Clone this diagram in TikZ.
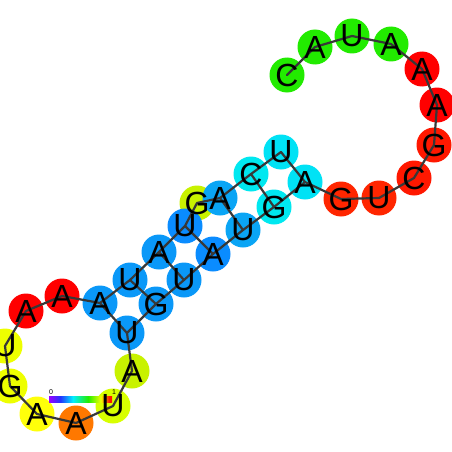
\documentclass[tikz,border=0pt]{standalone}
\usepackage{fontspec}
\setmainfont{Liberation Sans}
\definecolor{lineg}{HTML}{383838}
\definecolor{cyanA}{HTML}{00E2F5}
\definecolor{cyanB}{HTML}{00E8F0}
\definecolor{blueL}{HTML}{0AA5F5}
\definecolor{blueM}{HTML}{0A98F8}
\definecolor{blueD}{HTML}{0A8CFF}
\definecolor{limeA}{HTML}{C8F200}
\definecolor{limeB}{HTML}{D8FF00}
\definecolor{yelA}{HTML}{EEFF00}
\definecolor{yelB}{HTML}{FFFF0A}
\definecolor{orng}{HTML}{FF7800}
\definecolor{redA}{HTML}{FF0000}
\definecolor{redB}{HTML}{FF1800}
\definecolor{redC}{HTML}{FF2600}
\definecolor{grn}{HTML}{22EB00}
\definecolor{barP}{HTML}{9900FF}
\definecolor{barB}{HTML}{2233FF}
\definecolor{barC}{HTML}{00EEFF}
\definecolor{barG}{HTML}{22EE00}
\definecolor{barY}{HTML}{EEFF00}
\definecolor{barR}{HTML}{FF1100}
\pgfdeclarehorizontalshading{rainbowbar}{100bp}{color(0bp)=(barP); color(25bp)=(barP); color(34bp)=(barB); color(44bp)=(barC); color(56bp)=(barG); color(66bp)=(barY); color(73bp)=(barR); color(100bp)=(barR)}
\begin{document}
\begin{tikzpicture}[x=1pt,y=-1pt,
  nt/.style={circle, minimum size=35pt, inner sep=0pt, fill=#1},
  lt/.style={font=\fontsize{32}{32}\selectfont, inner sep=0pt},
  bb/.style={draw=lineg, line width=2.2pt, line join=round, line cap=round},
  bp/.style={draw=lineg, line width=2.2pt, line cap=round},
  tick/.style={font=\fontsize{7}{7}\selectfont, inner sep=0pt}]
\clip (0,0) rectangle (452,452);
\fill[white] (0,0) rectangle (452,452);
% circles (bulge G first)
\node[nt=limeA] (n4) at (197,203) {};
\foreach \n/\x/\y/\c in {
  n1/281/152/cyanA, n2/251/174/cyanB, n3/220/198/blueL,
  n5/185/226/blueD, n6/159/252/blueM, n7/130/280/blueM, n8/100/303/blueM,
  n9/62/296/redA, n10/26/311/redA, n11/5/346/yelA, n12/10/386/yelA,
  n13/37/414/yelB, n14/76/423/orng, n15/113/406/limeB, n16/132/371/limeA,
  n17/127/333/blueM, n18/156/304/blueM, n19/184/280/blueM, n20/213/254/blueD,
  n21/243/230/blueL, n22/274/207/cyanB, n23/305/182/cyanA,
  n24/341/199/redC, n25/379/198/redC, n26/414/178/redB, n27/434/145/redB,
  n28/437/105/redA, n29/422/69/redA, n30/391/44/grn, n31/352/36/grn,
  n32/315/47/grn, n33/287/75/grn}
  \node[nt=\c] (\n) at (\x,\y) {};
% colour bar
\shade[shading=rainbowbar] (49,396) rectangle (112,402);
\node[tick] (t0) at (51,392) {0};
\node[tick] (t1) at (114,392) {1};
% backbone
\draw[bb] (n1.center) -- (n2.center) -- (n3.center) -- (n4.center) -- (n5.center)
  -- (n6.center) -- (n7.center) -- (n8.center) -- (n9.center) -- (n10.center)
  -- (n11.center) -- (n12.center) -- (n13.center) -- (n14.center) -- (n15.center)
  -- (n16.center) -- (n17.center) -- (n18.center) -- (n19.center) -- (n20.center)
  -- (n21.center) -- (n22.center) -- (n23.center) -- (n24.center) -- (n25.center)
  -- (n26.center) -- (n27.center) -- (n28.center) -- (n29.center) -- (n30.center)
  -- (n31.center) -- (n32.center) -- (n33.center);
% base pairs
\foreach \a/\b in {n8/n17, n7/n18, n6/n19, n5/n20, n3/n21, n2/n22, n1/n23}
  \draw[bp] (\a.center) -- (\b.center);
% letters
\foreach \n/\L in {n1/U, n2/C, n3/A, n4/G, n5/U, n6/A, n7/U, n8/A, n9/A, n10/A,
  n11/U, n12/G, n13/A, n14/A, n15/U, n16/A, n17/U, n18/G, n19/U, n20/A,
  n21/U, n22/G, n23/A, n24/G, n25/U, n26/C, n27/G, n28/A, n29/A, n30/A,
  n31/U, n32/A, n33/C}
  \node[lt] (l\n) at (\n) {\L};
\end{tikzpicture}
\end{document}
